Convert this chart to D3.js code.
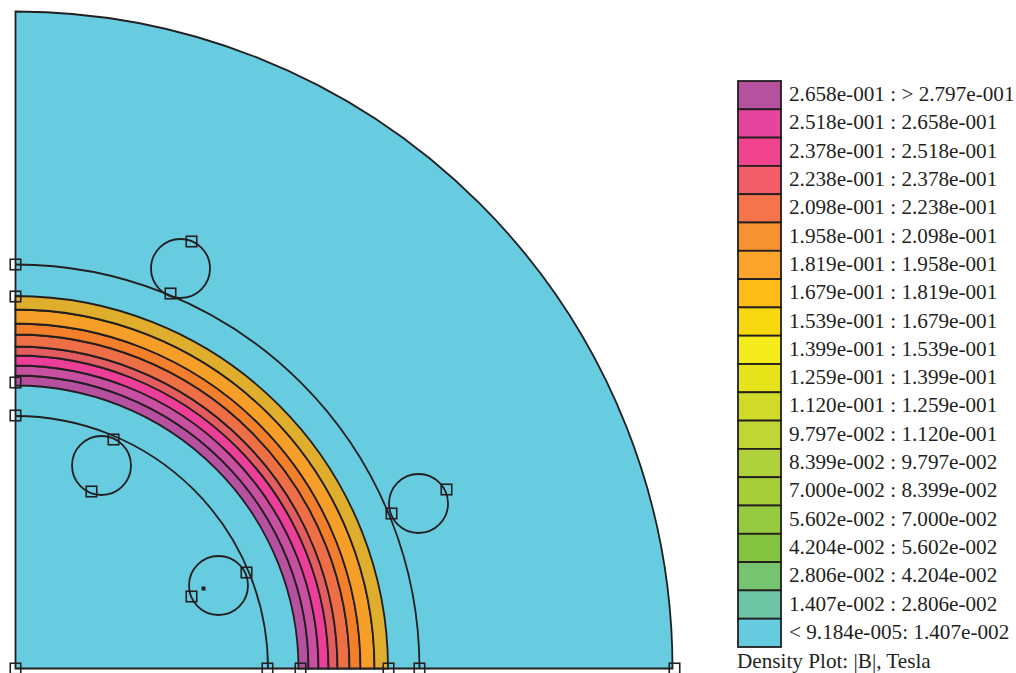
<!DOCTYPE html>
<html>
<head>
<meta charset="utf-8">
<script src="https://cdn.jsdelivr.net/npm/d3@7"></script>
<style>
  html, body { margin: 0; padding: 0; background: #fff; overflow: hidden; }
  svg { display: block; }
</style>
</head>
<body>
<div id="chart"></div>
<script>
// 几何数据（模型单位，圆心在左下角）
const outerRadius = 65.7
const lineRadii = [25.25, 40.4]
const bandRadii = [28.3, 29.3, 30.3, 31.3, 32.2, 33.4, 34.5, 35.9, 37.25]
const bandColors = ['#b5519f', '#c94fa1', '#ee3f98', '#e35c60', '#ee6e45', '#f37f2b', '#f59f28', '#dfae2d']
const holes = [[16.5, 40.0], [8.6, 20.3], [20.3, 8.3], [40.3, 16.5]]
const holeRadius = 2.95
const nodes = [
  [0, 0], [25.2, 0], [28.5, 0], [37.3, 0], [40.4, 0], [65.9, 0],
  [0, 40.4], [0, 37.2], [0, 28.6], [0, 25.3],
  [17.6, 42.7], [15.5, 37.5], [9.8, 22.9], [7.6, 17.7],
  [23.1, 9.6], [17.6, 7.2], [43.1, 17.9], [37.6, 15.5]
]
const blockPoints = [[18.8, 8.0]]

// 图例
const legendColors = ['#b5519f', '#e5459c', '#f1448e', '#f15d68', '#f5744c', '#f6922f', '#faa42c', '#fdbc17',
  '#f8d90f', '#f4ec1b', '#e6e31a', '#cfdb28', '#bfd634', '#aed13c', '#a6ce39', '#96ca40', '#85c441', '#78c370', '#6fc6a7', '#67cbe0']
const legendLabels = [
  '2.658e-001 : > 2.797e-001', '2.518e-001 : 2.658e-001', '2.378e-001 : 2.518e-001', '2.238e-001 : 2.378e-001',
  '2.098e-001 : 2.238e-001', '1.958e-001 : 2.098e-001', '1.819e-001 : 1.958e-001', '1.679e-001 : 1.819e-001',
  '1.539e-001 : 1.679e-001', '1.399e-001 : 1.539e-001', '1.259e-001 : 1.399e-001', '1.120e-001 : 1.259e-001',
  '9.797e-002 : 1.120e-001', '8.399e-002 : 9.797e-002', '7.000e-002 : 8.399e-002', '5.602e-002 : 7.000e-002',
  '4.204e-002 : 5.602e-002', '2.806e-002 : 4.204e-002', '1.407e-002 : 2.806e-002', '< 9.184e-005: 1.407e-002'
]
const legendTitle = 'Density Plot: |B|, Tesla'

const width = 1016
const height = 673
const lineColor = '#231f20'
const fontFamily = '"Liberation Serif", "Times New Roman", serif'

const svg = d3.select('#chart').append('svg')
  .attr('width', width)
  .attr('height', height)

const x = d3.scaleLinear().domain([0, 65.7]).range([15.5, 672.5])
const y = d3.scaleLinear().domain([0, 65.7]).range([668.5, 11.5])
const r = d3.scaleLinear().domain([0, 65.7]).range([0, 657])

const arc = d3.arc().startAngle(0).endAngle(Math.PI / 2)
const gPlot = svg.append('g').attr('transform', `translate(${x(0)},${y(0)})`)

// 背景四分之一圆
gPlot.append('path')
  .attr('d', arc({ innerRadius: 0, outerRadius: r(outerRadius) }))
  .attr('fill', '#67cce0')
  .attr('stroke', lineColor)
  .attr('stroke-width', 1.8)

// 色带
gPlot.selectAll('path.band')
  .data(bandColors)
  .join('path')
  .attr('class', 'band')
  .attr('d', (d, i) => arc({ innerRadius: r(bandRadii[i]), outerRadius: r(bandRadii[i + 1]) }))
  .attr('fill', d => d)
  .attr('stroke', lineColor)
  .attr('stroke-width', 1.8)

// 其余圆弧
gPlot.selectAll('path.line-arc')
  .data(lineRadii)
  .join('path')
  .attr('class', 'line-arc')
  .attr('d', d => arc({ innerRadius: r(d), outerRadius: r(d) }))
  .attr('fill', 'none')
  .attr('stroke', lineColor)
  .attr('stroke-width', 1.8)

// 小圆
svg.selectAll('circle.hole')
  .data(holes)
  .join('circle')
  .attr('class', 'hole')
  .attr('cx', d => x(d[0]))
  .attr('cy', d => y(d[1]))
  .attr('r', r(holeRadius))
  .attr('fill', 'none')
  .attr('stroke', lineColor)
  .attr('stroke-width', 1.8)

// 节点方块
const nodeSize = 10.5
svg.selectAll('rect.node')
  .data(nodes)
  .join('rect')
  .attr('class', 'node')
  .attr('x', d => x(d[0]) - nodeSize / 2)
  .attr('y', d => y(d[1]) - nodeSize / 2)
  .attr('width', nodeSize)
  .attr('height', nodeSize)
  .attr('fill', 'none')
  .attr('stroke', lineColor)
  .attr('stroke-width', 1.6)

svg.selectAll('rect.block')
  .data(blockPoints)
  .join('rect')
  .attr('class', 'block')
  .attr('x', d => x(d[0]) - 2)
  .attr('y', d => y(d[1]) - 2)
  .attr('width', 4)
  .attr('height', 4)
  .attr('fill', lineColor)

// 图例
const rowScale = d3.scaleBand()
  .domain(d3.range(legendLabels.length))
  .range([81, 647])

const gLegend = svg.append('g')

gLegend.selectAll('rect')
  .data(legendColors)
  .join('rect')
  .attr('x', 738)
  .attr('y', (d, i) => rowScale(i))
  .attr('width', 43)
  .attr('height', rowScale.bandwidth())
  .attr('fill', d => d)
  .attr('stroke', lineColor)
  .attr('stroke-width', 1.8)

gLegend.selectAll('text')
  .data(legendLabels)
  .join('text')
  .attr('x', 789)
  .attr('y', (d, i) => rowScale(i) + rowScale.bandwidth() / 2 + 6)
  .attr('font-family', fontFamily)
  .attr('font-size', 21.2)
  .attr('fill', lineColor)
  .text(d => d)

svg.append('text')
  .attr('x', 737)
  .attr('y', 668)
  .attr('font-family', fontFamily)
  .attr('font-size', 21.2)
  .attr('fill', lineColor)
  .text(legendTitle)
</script>
</body>
</html>
